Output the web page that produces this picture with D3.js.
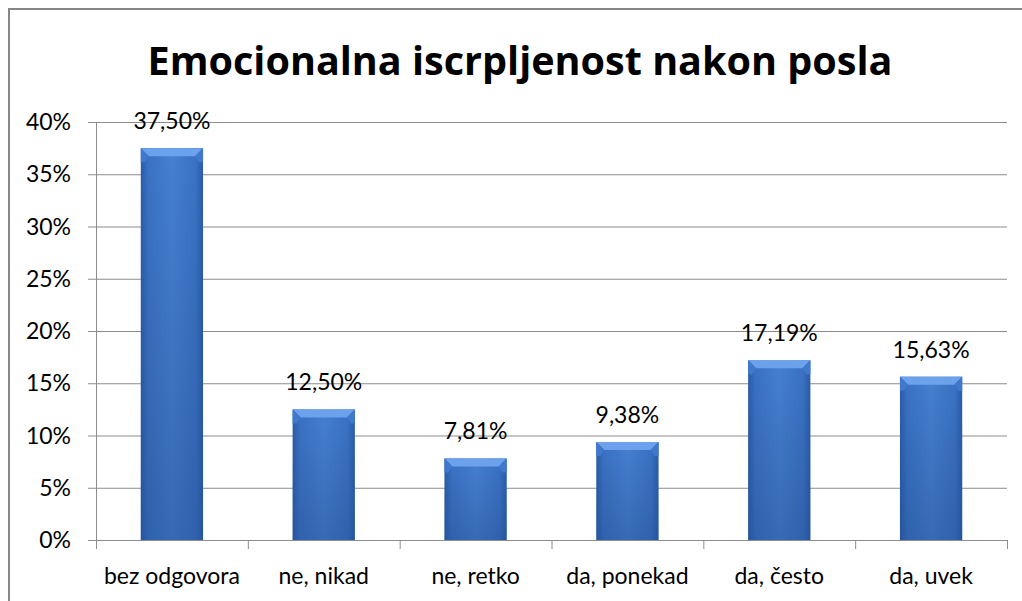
<!DOCTYPE html>
<html>
<head>
<meta charset="utf-8">
<script src="https://cdnjs.cloudflare.com/ajax/libs/d3/7.8.5/d3.min.js"></script>
<style>
  body { margin: 0; background: #fff; }
  svg { display: block; }
  text { font-family: Lato, "Open Sans", sans-serif; fill: #000; }
</style>
</head>
<body>
<div id="chart"></div>
<script>
const categories = ["bez odgovora", "ne, nikad", "ne, retko", "da, ponekad", "da, često", "da, uvek"];
const values = [37.50, 12.50, 7.81, 9.38, 17.19, 15.63];
const yTicks = [0, 5, 10, 15, 20, 25, 30, 35, 40];
const titleText = "Emocionalna iscrpljenost nakon posla";

const width = 1022;
const height = 601;
const plot = {left: 96, right: 1007, top: 122, bottom: 540};
const labelSize = 23;

const svg = d3.select('#chart').append('svg')
	.attr('width', width)
	.attr('height', height);

// gradients for the bevelled bars
const defs = svg.append('defs');
const body = defs.append('linearGradient').attr('id', 'barBody')
	.attr('x1', 0).attr('x2', 1).attr('y1', 0).attr('y2', 0);
body.append('stop').attr('offset', '0%').attr('stop-color', '#2a5ca8');
body.append('stop').attr('offset', '12%').attr('stop-color', '#3b72c4');
body.append('stop').attr('offset', '50%').attr('stop-color', '#4680d0');
body.append('stop').attr('offset', '88%').attr('stop-color', '#3b72c4');
body.append('stop').attr('offset', '100%').attr('stop-color', '#2a5ca8');

const bottomShade = defs.append('linearGradient').attr('id', 'barShade')
	.attr('x1', 0).attr('x2', 0).attr('y1', 0).attr('y2', 1);
bottomShade.append('stop').attr('offset', '0%').attr('stop-color', '#1f4a8a').attr('stop-opacity', 0);
bottomShade.append('stop').attr('offset', '100%').attr('stop-color', '#1f4a8a').attr('stop-opacity', 0.4);

// chart border
svg.append('rect')
	.attr('x', 9).attr('y', 9)
	.attr('width', width + 10).attr('height', height + 10)
	.attr('fill', 'none')
	.attr('stroke', '#878787')
	.attr('stroke-width', 2);

const x = d3.scaleBand()
	.domain(categories)
	.range([plot.left, plot.right])
	.paddingInner(0.59)
	.paddingOuter(0.295);

const y = d3.scaleLinear()
	.domain([0, 40])
	.range([plot.bottom, plot.top]);

// gridlines
svg.append('g')
	.selectAll('line').data(yTicks).enter()
	.append('line')
	.attr('x1', plot.left - 8)
	.attr('x2', plot.right)
	.attr('y1', d => y(d) + 0.5)
	.attr('y2', d => y(d) + 0.5)
	.attr('stroke', '#8c8c8c')
	.attr('stroke-width', 1);

// y axis labels
svg.append('g')
	.selectAll('text').data(yTicks).enter()
	.append('text')
	.attr('x', 71)
	.attr('y', d => y(d))
	.attr('dy', '0.35em')
	.attr('text-anchor', 'end')
	.style('font-size', labelSize + 'px')
	.text(d => d + '%');

// y axis line
svg.append('line')
	.attr('x1', plot.left + 0.5).attr('x2', plot.left + 0.5)
	.attr('y1', plot.top).attr('y2', plot.bottom)
	.attr('stroke', '#8c8c8c');

// x axis ticks between categories
const step = (plot.right - plot.left) / categories.length;
svg.append('g')
	.selectAll('line').data(d3.range(categories.length + 1)).enter()
	.append('line')
	.attr('x1', i => plot.left + i * step + 0.5)
	.attr('x2', i => plot.left + i * step + 0.5)
	.attr('y1', plot.bottom)
	.attr('y2', plot.bottom + 9)
	.attr('stroke', '#8c8c8c');

// x axis labels
svg.append('g')
	.selectAll('text').data(categories).enter()
	.append('text')
	.attr('x', d => x(d) + x.bandwidth() / 2)
	.attr('y', 584)
	.attr('text-anchor', 'middle')
	.style('font-size', labelSize + 'px')
	.text(d => d);

// bars
const data = categories.map((c, i) => ({cat: c, val: values[i]}));
const bars = svg.append('g').selectAll('g').data(data).enter().append('g');
const bev = 8;

bars.append('rect')
	.attr('x', d => x(d.cat))
	.attr('y', d => y(d.val))
	.attr('width', x.bandwidth())
	.attr('height', d => plot.bottom - y(d.val))
	.attr('fill', 'url(#barBody)');

bars.append('rect')
	.attr('x', d => x(d.cat))
	.attr('y', d => y(d.val))
	.attr('width', x.bandwidth())
	.attr('height', d => plot.bottom - y(d.val))
	.attr('fill', 'url(#barShade)');

// top bevel face
bars.append('path')
	.attr('d', d => {
		const x0 = x(d.cat), x1 = x0 + x.bandwidth(), t = y(d.val);
		return `M${x0},${t}L${x1},${t}L${x1 - bev},${t + bev}L${x0 + bev},${t + bev}Z`;
	})
	.attr('fill', '#6ca2ec');

// side bevels
bars.append('path')
	.attr('d', d => {
		const x0 = x(d.cat), t = y(d.val);
		return `M${x0},${t}L${x0 + bev},${t + bev}L${x0 + 4},${t + bev + 6}L${x0},${t + bev + 6}Z`;
	})
	.attr('fill', '#3f78cc');
bars.append('path')
	.attr('d', d => {
		const x1 = x(d.cat) + x.bandwidth(), t = y(d.val);
		return `M${x1},${t}L${x1 - bev},${t + bev}L${x1 - 4},${t + bev + 6}L${x1},${t + bev + 6}Z`;
	})
	.attr('fill', '#3f78cc');

// value labels
bars.append('text')
	.attr('x', d => x(d.cat) + x.bandwidth() / 2)
	.attr('y', d => y(d.val) - 19)
	.attr('text-anchor', 'middle')
	.style('font-size', labelSize + 'px')
	.text(d => d.val.toFixed(2).replace('.', ',') + '%');

// title, sized to the width it has in the picture
const title = svg.append('text')
	.attr('x', 520)
	.attr('y', 75)
	.attr('text-anchor', 'middle')
	.style('font-family', '"Open Sans", sans-serif')
	.style('font-size', '40px')
	.style('font-weight', 'bold')
	.text(titleText);
const w = title.node().getComputedTextLength();
title.style('font-size', (40 * 745 / w) + 'px');
</script>
</body>
</html>
